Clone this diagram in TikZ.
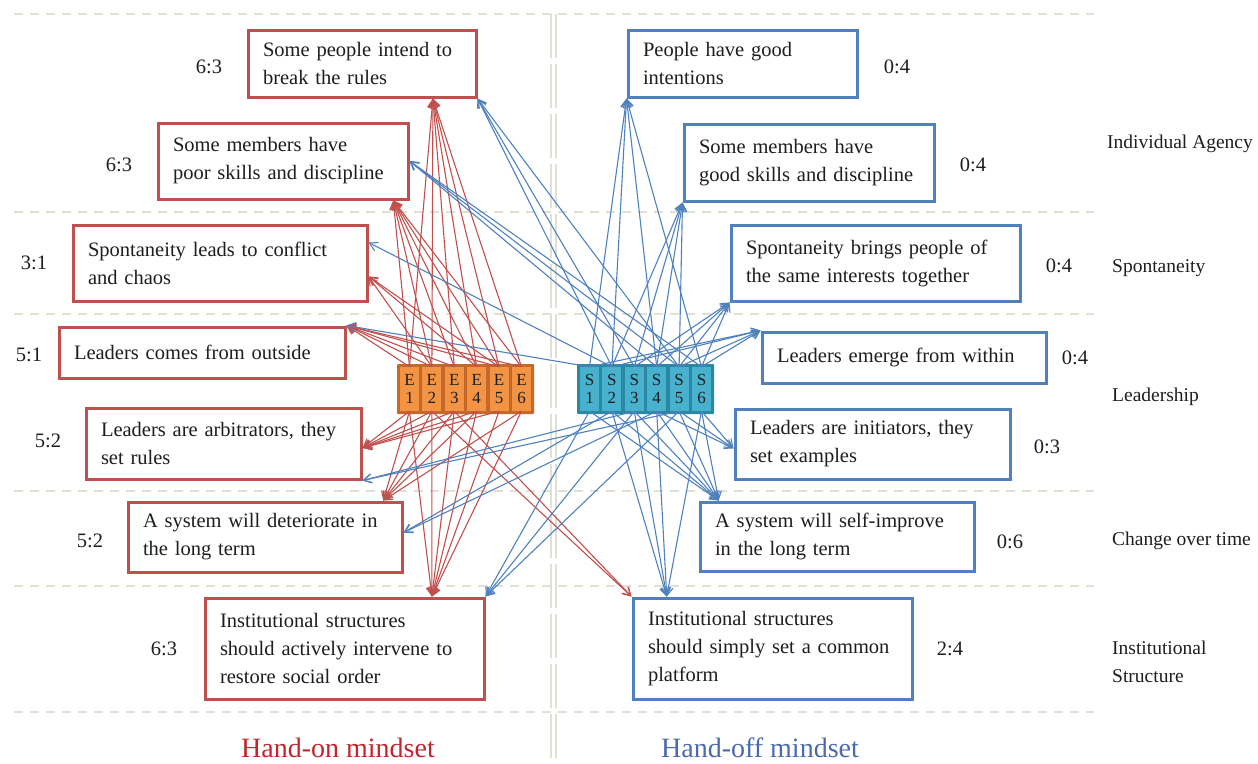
\documentclass[tikz,border=0pt]{standalone}
\usepackage{fontspec}
\setmainfont{Liberation Serif}
\usetikzlibrary{arrows.meta,calc}

\definecolor{hon}{HTML}{C0504D}
\definecolor{hoff}{HTML}{4F81BD}
\definecolor{honText}{HTML}{C0262D}
\definecolor{hoffText}{HTML}{4A6AAE}
\definecolor{gridc}{HTML}{E2DFD4}
\definecolor{edark}{HTML}{C4692A}
\definecolor{elight}{HTML}{F39444}
\definecolor{sdark}{HTML}{2A88A3}
\definecolor{slight}{HTML}{47B1CE}
\definecolor{ink}{HTML}{1E1E1E}

\newcommand\claimfont{\fontsize{20.5}{28}\selectfont}
\newcommand\catfont{\fontsize{19.5}{28}\selectfont}
\newcommand\cellfont{\fontsize{17}{17.5}\selectfont}

\tikzset{
  claim/.style={draw=#1, line width=3pt, fill=white, inner xsep=15pt,
    inner ysep=3pt, align=left, font=\claimfont, text=ink},
  ratio/.style={font=\claimfont, text=ink, inner sep=0pt},
  category/.style={font=\catfont, text=ink, inner sep=0pt, anchor=west, align=left},
  mindset/.style={font=\fontsize{28}{30}\selectfont, inner sep=0pt},
  gridline/.style={draw=gridc, line width=1.6pt, dash pattern=on 9pt off 7pt},
  midline/.style={draw=gridc, line width=1.4pt, dash pattern=on 44pt off 6pt},
  ecell/.style={fill=elight, minimum width=19pt, minimum height=44pt, inner sep=0pt,
    align=center, font=\cellfont, text=ink},
  scell/.style={fill=slight, minimum width=19pt, minimum height=44pt, inner sep=0pt,
    align=center, font=\cellfont, text=ink},
  group/.style={minimum width=137pt, minimum height=50pt, inner sep=0pt, rounded corners=1pt},
  honarrow/.style={draw=hon, line width=1.1pt, -{Straight Barb[length=8pt,width=9pt]}},
  hoffarrow/.style={draw=hoff, line width=1.1pt, -{Straight Barb[length=8pt,width=9pt]}},
}

\begin{document}
\begin{tikzpicture}[x=1pt,y=-1pt]
\useasboundingbox (0,0) rectangle (1258,763);

% light dashed guides separating the themes
\foreach \y in {14,212,314,491,586,712}
  \draw[gridline] (14,\y) -- (1094,\y);
\draw[midline] (551,14) -- (551,758);
\draw[midline] (556,14) -- (556,758);

% hand-on claims
\node[claim=hon, minimum width=228pt, minimum height=67pt, text width=198pt] (L1) at (362,63.5)
  {Some people intend to\\break the rules};
\node[claim=hon, minimum width=250pt, minimum height=76pt, text width=220pt] (L2) at (283,161)
  {Some members have\\poor skills and discipline};
\node[claim=hon, minimum width=294pt, minimum height=76pt, text width=264pt] (L3) at (220,263)
  {Spontaneity leads to conflict\\and chaos};
\node[claim=hon, minimum width=286pt, minimum height=51pt, text width=256pt] (L4) at (202,352.5)
  {Leaders comes from outside};
\node[claim=hon, minimum width=275pt, minimum height=71pt, text width=245pt] (L5) at (223.5,443.5)
  {Leaders are arbitrators, they\\set rules};
\node[claim=hon, minimum width=274pt, minimum height=70pt, text width=244pt] (L6) at (265,537)
  {A system will deteriorate in\\the long term};
\node[claim=hon, minimum width=279pt, minimum height=101pt, text width=249pt] (L7) at (344.5,648.5)
  {Institutional structures\\should actively intervene to\\restore social order};

% hand-off claims
\node[claim=hoff, minimum width=229pt, minimum height=67pt, text width=199pt] (R1) at (742.5,63.5)
  {People have good\\intentions};
\node[claim=hoff, minimum width=250pt, minimum height=77pt, text width=220pt] (R2) at (809,162.5)
  {Some members have\\good skills and discipline};
\node[claim=hoff, minimum width=289pt, minimum height=76pt, text width=259pt] (R3) at (875.5,263)
  {Spontaneity brings people of\\the same interests together};
\node[claim=hoff, minimum width=284pt, minimum height=51pt, text width=254pt] (R4) at (904,357.5)
  {Leaders emerge from within};
\node[claim=hoff, minimum width=275pt, minimum height=70pt, text width=245pt] (R5) at (872.5,444)
  {Leaders are initiators, they\\set examples};
\node[claim=hoff, minimum width=274pt, minimum height=69pt, text width=244pt] (R6) at (837,536.5)
  {A system will self-improve\\in the long term};
\node[claim=hoff, minimum width=279pt, minimum height=101pt, text width=249pt] (R7) at (772.5,648.5)
  {Institutional structures\\should simply set a common\\platform};

% vote ratios
\node[ratio] (nL1) at (209,67) {6:3};
\node[ratio] (nL2) at (119,165) {6:3};
\node[ratio] (nL3) at (34,263) {3:1};
\node[ratio] (nL4) at (29,355) {5:1};
\node[ratio] (nL5) at (48,441) {5:2};
\node[ratio] (nL6) at (90,541) {5:2};
\node[ratio] (nL7) at (164,649) {6:3};
\node[ratio] (nR1) at (897,67) {0:4};
\node[ratio] (nR2) at (973,165) {0:4};
\node[ratio] (nR3) at (1059,266) {0:4};
\node[ratio] (nR4) at (1075,358) {0:4};
\node[ratio] (nR5) at (1047,447) {0:3};
\node[ratio] (nR6) at (1010,542) {0:6};
\node[ratio] (nR7) at (950,649) {2:4};

% theme names
\node[category] (cA) at (1107,144) {Individual Agency};
\node[category] (cS) at (1112,268) {Spontaneity};
\node[category] (cL) at (1112,397) {Leadership};
\node[category] (cC) at (1112,541) {Change over time};
\node[category] (cI) at (1112,662) {Institutional\\Structure};

% mindset captions
\node[mindset, text=honText] (mOn) at (338,748) {Hand-on mindset};
\node[mindset, text=hoffText] (mOff) at (760,748) {Hand-off mindset};

% participant groups
\node[group, fill=edark] (Egrp) at (465.5,389) {};
\node[group, fill=sdark] (Sgrp) at (645.5,389) {};
\foreach \i in {1,...,6} {
  \node[ecell] (E\i) at ({409.5+22.4*(\i-1)},389) {E\\\i};
  \node[scell] (S\i) at ({589.5+22.4*(\i-1)},389) {S\\\i};
}

% hand-on links
\foreach \i in {1,...,6}
  \draw[honarrow] (E\i.north) -- ($(L1.south west)!0.807!(L1.south east)$);
\foreach \i in {1,...,6}
  \draw[honarrow] (E\i.north) -- ($(L2.south west)!0.936!(L2.south east)$);
\foreach \i in {2,4,5}
  \draw[honarrow] (E\i.north) -- ($(L3.north east)!0.67!(L3.south east)$);
\foreach \i in {1,2,3,5,6}
  \draw[honarrow] (E\i.north) -- (L4.north east);
\foreach \i in {1,...,5}
  \draw[honarrow] (E\i.south) -- ($(L5.north east)!0.56!(L5.south east)$);
\foreach \i in {1,2,3,4,6}
  \draw[honarrow] (E\i.south) -- ($(L6.north west)!0.927!(L6.north east)$);
\foreach \i in {1,...,6}
  \draw[honarrow] (E\i.south) -- ($(L7.north west)!0.81!(L7.north east)$);
\foreach \i in {2,3}
  \draw[honarrow] (E\i.south) -- (R7.north west);

% hand-off links
\foreach \i in {2,3,5}
  \draw[hoffarrow] (S\i.north) -- (L1.south east);
\foreach \i in {4,5,6}
  \draw[hoffarrow] (S\i.north) -- (L2.east);
\foreach \i in {2}
  \draw[hoffarrow] (S\i.north) -- ($(L3.north east)!0.24!(L3.south east)$);
\foreach \i in {1}
  \draw[hoffarrow] (S\i.north) -- (L4.north east);
\foreach \i in {3,5}
  \draw[hoffarrow] (S\i.south) -- (L5.south east);
\foreach \i in {2,4}
  \draw[hoffarrow] (S\i.south) -- ($(L6.north east)!0.44!(L6.south east)$);
\foreach \i in {1,3,5}
  \draw[hoffarrow] (S\i.south) -- (L7.north east);
\foreach \i in {1,2,4,6}
  \draw[hoffarrow] (S\i.north) -- (R1.south west);
\foreach \i in {2,3,4,5}
  \draw[hoffarrow] (S\i.north) -- (R2.south west);
\foreach \i in {3,4,5,6}
  \draw[hoffarrow] (S\i.north) -- (R3.south west);
\foreach \i in {1,2,5,6}
  \draw[hoffarrow] (S\i.north) -- (R4.north west);
\foreach \i in {4,5,6}
  \draw[hoffarrow] (S\i.south) -- ($(R5.north west)!0.56!(R5.south west)$);
\foreach \i in {1,...,6}
  \draw[hoffarrow] (S\i.south) -- ($(R6.north west)!0.073!(R6.north east)$);
\foreach \i in {2,3,4,6}
  \draw[hoffarrow] (S\i.south) -- ($(R7.north west)!0.125!(R7.north east)$);
\end{tikzpicture}
\end{document}
